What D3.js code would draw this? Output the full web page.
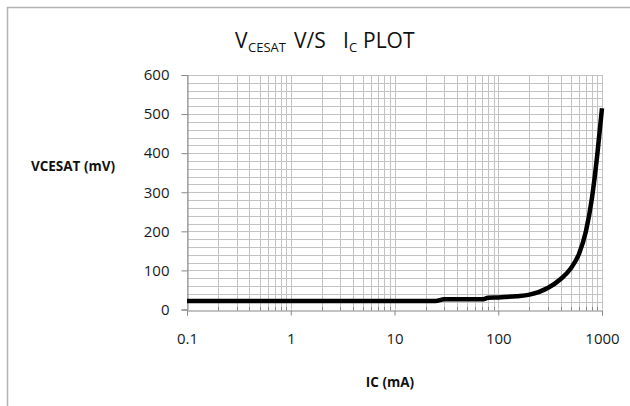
<!DOCTYPE html>
<html>
<head>
<meta charset="utf-8">
<script src="https://cdn.jsdelivr.net/npm/d3@7"></script>
<style>
  html, body { margin: 0; padding: 0; background: #fff; }
  svg { display: block; }
</style>
</head>
<body>
<svg id="chart" width="630" height="406"></svg>
<script>
// Data
const icValues = [0.1, 1, 10, 25, 30, 70, 80, 100, 150, 200, 300, 400, 500, 600, 700, 800, 900, 1000];
const vceValues = [22, 22, 22, 22, 26, 26, 30, 31, 34, 38, 55, 78, 105, 142, 200, 285, 395, 515];
const xTickLabels = ["0.1", "1", "10", "100", "1000"];
const xTickValues = [0.1, 1, 10, 100, 1000];
const yTickValues = [0, 100, 200, 300, 400, 500, 600];

const svg = d3.select("#chart");
const font = "'Open Sans', 'Liberation Sans', sans-serif";

// Outer chart border (only top and left visible)
svg.append("path")
  .attr("d", "M7.5,406 L7.5,7.5 L630,7.5")
  .attr("fill", "none").attr("stroke", "#b3b3b3").attr("stroke-width", 1.5);

const x = d3.scaleLog().domain([0.1, 1000]).range([187, 602]);
const y = d3.scaleLinear().domain([0, 600]).range([309.5, 75]);

const grid = svg.append("g").attr("stroke", "#c3c3c3").attr("stroke-width", 1);
// vertical grid lines at every 1..9 x 10^k
const minorX = [];
for (let k = -1; k < 3; k++) for (let m = 1; m <= 9; m++) minorX.push(m * Math.pow(10, k));
minorX.push(1000);
grid.selectAll("line.v").data(minorX).join("line")
  .attr("x1", d => Math.round(x(d)) + 0.5).attr("x2", d => Math.round(x(d)) + 0.5)
  .attr("y1", y(600)).attr("y2", y(0));
// horizontal grid lines every 20
const hY = d3.range(20, 601, 20);
grid.selectAll("line.h").data(hY).join("line")
  .attr("x1", x(0.1)).attr("x2", x(1000))
  .attr("y1", d => Math.round(y(d)) + 0.5).attr("y2", d => Math.round(y(d)) + 0.5);

// Axes
const axisColor = "#868686";
const yAxis = svg.append("g").attr("transform", `translate(${Math.round(x(0.1)) + 0.5},0)`)
  .call(d3.axisLeft(y).tickValues(yTickValues).tickSize(6).tickPadding(12));
const xAxis = svg.append("g").attr("transform", `translate(0,${Math.round(y(0)) + 0.5})`)
  .call(d3.axisBottom(x).tickValues(xTickValues).tickFormat((d, i) => xTickLabels[i]).tickSize(5).tickPadding(18));
[yAxis, xAxis].forEach(g => {
  g.select(".domain").attr("stroke", axisColor);
  g.selectAll(".tick line").attr("stroke", axisColor);
  g.selectAll(".tick text").attr("fill", "#1a1a1a").style("font-family", font).style("font-size", "15px");
});
// minor ticks on x axis
svg.append("g").selectAll("line").data(minorX.filter(d => !xTickValues.includes(d))).join("line")
  .attr("x1", d => Math.round(x(d)) + 0.5).attr("x2", d => Math.round(x(d)) + 0.5)
  .attr("y1", Math.round(y(0)) + 0.5).attr("y2", Math.round(y(0)) - 3)
  .attr("stroke", axisColor);

// Curve
const pts = icValues.map((v, i) => [v, vceValues[i]]);
svg.append("path").datum(pts)
  .attr("fill", "none").attr("stroke", "#000").attr("stroke-width", 4.5)
  .attr("stroke-linejoin", "round")
  .attr("d", d3.line().x(d => x(d[0])).y(d => y(d[1])).curve(d3.curveMonotoneX));

// Title
const tf = (sel, size) => sel.style("font-family", font).style("font-size", size).attr("fill", "#111");
const tg = svg.append("g");
tf(tg.append("text").attr("x", 235).attr("y", 47.5), "21px").text("V");
tf(tg.append("text").attr("x", 248).attr("y", 52), "13px").text("CESAT");
tf(tg.append("text").attr("x", 294).attr("y", 47.5), "21px").text("V/S");
tf(tg.append("text").attr("x", 343).attr("y", 47.5), "21px").text("I");
tf(tg.append("text").attr("x", 349).attr("y", 52), "13px").text("C");
tf(tg.append("text").attr("x", 363).attr("y", 47.5), "21px").text("PLOT");

// Axis titles
svg.append("text").attr("x", 73).attr("y", 171).attr("text-anchor", "middle")
  .style("font-family", font).style("font-size", "13.5px").style("font-weight", "bold")
  .attr("fill", "#111").text("VCESAT (mV)");
svg.append("text").attr("x", 390).attr("y", 387).attr("text-anchor", "middle")
  .style("font-family", font).style("font-size", "13.5px").style("font-weight", "bold")
  .attr("fill", "#111").text("IC (mA)");
</script>
</body>
</html>
